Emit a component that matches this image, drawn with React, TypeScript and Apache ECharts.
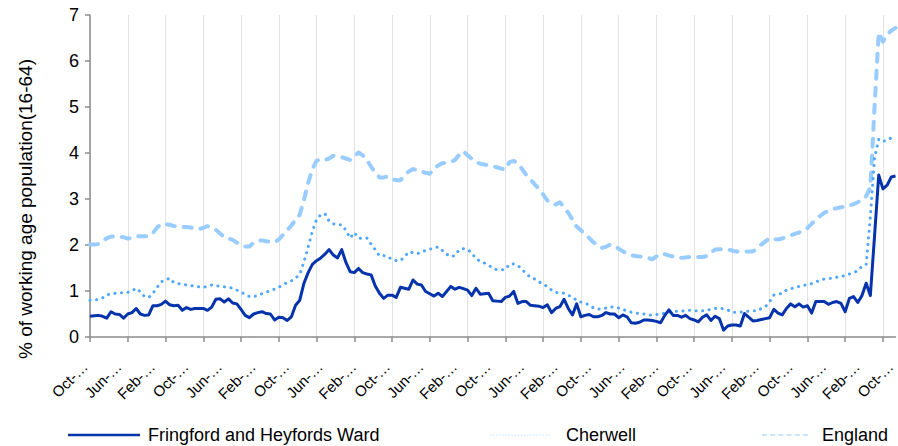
import React, { useEffect, useRef } from "react";
import * as echarts from "echarts";

const MONTH_NAMES = ["Jan", "Feb", "Mar", "Apr", "May", "Jun", "Jul", "Aug", "Sep", "Oct", "Nov", "Dec"];
const START_YEAR = 2004;
const START_MONTH = 9; // October
const POINT_COUNT = 193;

const categories: string[] = [];
for (let i = 0; i < POINT_COUNT; i++) {
  const m = (START_MONTH + i) % 12;
  const y = START_YEAR + Math.floor((START_MONTH + i) / 12);
  categories.push(`${MONTH_NAMES[m]}-${y}`);
}

const yTicks = [0, 1, 2, 3, 4, 5, 6, 7];

const wardName = "Fringford and Heyfords Ward";
const cherwellName = "Cherwell";
const englandName = "England";

const ward = [
  0.45, 0.46, 0.47, 0.45, 0.41, 0.55, 0.5, 0.49, 0.41, 0.5,
  0.53, 0.62, 0.5, 0.47, 0.48, 0.68, 0.68, 0.71, 0.78, 0.7,
  0.68, 0.69, 0.58, 0.64, 0.6, 0.62, 0.62, 0.62, 0.58, 0.65,
  0.82, 0.83, 0.76, 0.83, 0.74, 0.72, 0.6, 0.47, 0.42, 0.5,
  0.53, 0.55, 0.51, 0.5, 0.37, 0.43, 0.42, 0.36, 0.44, 0.69,
  0.8, 1.17, 1.4, 1.58, 1.66, 1.72, 1.8, 1.9, 1.78, 1.72,
  1.9, 1.62, 1.42, 1.4, 1.49, 1.4, 1.37, 1.35, 1.11, 0.95,
  0.84, 0.91, 0.91, 0.86, 1.08, 1.06, 1.04, 1.24, 1.15, 1.13,
  0.99, 0.94, 0.89, 0.95, 0.88, 0.99, 1.1, 1.04, 1.08, 1.05,
  1.02, 0.9, 1.06, 0.93, 0.94, 0.95, 0.79, 0.78, 0.77, 0.86,
  0.89, 0.99, 0.73, 0.77, 0.77, 0.69, 0.68, 0.67, 0.64, 0.7,
  0.53, 0.62, 0.66, 0.82, 0.62, 0.48, 0.72, 0.44, 0.47, 0.49,
  0.44, 0.44, 0.47, 0.53, 0.5, 0.5, 0.42, 0.48, 0.44, 0.31,
  0.3, 0.32, 0.37, 0.37, 0.36, 0.34, 0.31, 0.47, 0.59, 0.47,
  0.47, 0.43, 0.47, 0.4, 0.37, 0.33, 0.43, 0.48, 0.36, 0.45,
  0.4, 0.15, 0.24, 0.26, 0.26, 0.24, 0.51, 0.43, 0.35, 0.36,
  0.38, 0.4, 0.42, 0.6, 0.52, 0.48, 0.62, 0.72, 0.66, 0.72,
  0.65, 0.68, 0.52, 0.77, 0.77, 0.77, 0.71, 0.75, 0.77, 0.73,
  0.55, 0.84, 0.88, 0.75, 0.9, 1.17, 0.9, 2.2, 3.52, 3.22,
  3.3, 3.48, 3.5,
];

const cherwell = [
  0.8, 0.8, 0.82, 0.85, 0.92, 0.93, 0.95, 0.96, 0.96, 0.97,
  1.0, 1.06, 0.98, 0.88, 0.86, 0.95, 1.08, 1.2, 1.24, 1.28,
  1.18, 1.16, 1.15, 1.13, 1.12, 1.1, 1.09, 1.08, 1.1, 1.13,
  1.12, 1.1, 1.09, 1.08, 1.06, 1.02, 0.97, 0.93, 0.88, 0.88,
  0.9, 0.94, 0.97, 1.01, 1.04, 1.08, 1.14, 1.18, 1.22, 1.28,
  1.36, 1.64, 1.95, 2.3, 2.55, 2.66, 2.68, 2.52, 2.46, 2.44,
  2.44, 2.32, 2.15, 2.27, 2.15, 2.14, 2.15, 2.02, 1.9, 1.76,
  1.77, 1.75, 1.68, 1.66, 1.66, 1.75, 1.85, 1.83, 1.81, 1.85,
  1.88, 1.91, 1.93, 1.96, 1.88, 1.8, 1.75, 1.77, 1.9, 1.92,
  1.9, 1.83, 1.7, 1.65, 1.61, 1.56, 1.5, 1.46, 1.46, 1.47,
  1.58, 1.59, 1.55, 1.47, 1.37, 1.3, 1.26, 1.2, 1.15, 1.1,
  1.02, 0.97, 0.97, 0.95, 0.91, 0.86, 0.8, 0.76, 0.73, 0.7,
  0.63, 0.61, 0.61, 0.63, 0.66, 0.64, 0.63, 0.6, 0.56, 0.54,
  0.52, 0.51, 0.5, 0.47, 0.48, 0.49, 0.5, 0.52, 0.54, 0.56,
  0.56, 0.56, 0.58, 0.58, 0.57, 0.57, 0.57, 0.58, 0.6, 0.62,
  0.63, 0.61, 0.59, 0.54, 0.54, 0.54, 0.55, 0.56, 0.57, 0.57,
  0.62, 0.66, 0.77, 0.91, 0.93, 0.95, 1.02, 1.05, 1.07, 1.1,
  1.12, 1.14, 1.16, 1.2, 1.23, 1.26, 1.27, 1.28, 1.3, 1.31,
  1.34, 1.37, 1.4, 1.44, 1.54, 1.58, 2.6, 3.9, 4.3, 4.25,
  4.28, 4.33, 4.35,
];

const england = [
  2.01, 2.01, 2.02, 2.08, 2.15, 2.18, 2.19, 2.18, 2.17, 2.14,
  2.16, 2.19, 2.19, 2.19, 2.19, 2.26, 2.38, 2.46, 2.45, 2.44,
  2.41, 2.39, 2.39, 2.39, 2.38, 2.36, 2.35, 2.37, 2.41, 2.38,
  2.33, 2.25, 2.17, 2.14, 2.11, 2.05, 2.0, 1.97, 1.97, 2.05,
  2.1, 2.1, 2.08, 2.07, 2.06, 2.12, 2.22, 2.32, 2.42, 2.55,
  2.66, 2.98, 3.35, 3.65, 3.83, 3.87, 3.85, 3.88, 3.94, 3.93,
  3.91, 3.88, 3.85, 3.92, 4.01, 3.95, 3.85, 3.7, 3.58, 3.47,
  3.47, 3.49, 3.43, 3.41, 3.41, 3.52, 3.6, 3.65, 3.63, 3.6,
  3.57, 3.55, 3.66, 3.73, 3.78, 3.79, 3.8, 3.85, 3.96, 4.04,
  3.95, 3.87, 3.8, 3.77, 3.75, 3.73, 3.71, 3.69, 3.66, 3.64,
  3.8, 3.83, 3.77, 3.65, 3.52, 3.42, 3.32, 3.22, 3.1, 2.97,
  2.9, 2.88, 2.93, 2.82, 2.7, 2.55, 2.4, 2.32, 2.24, 2.15,
  2.06, 2.0, 1.94, 1.96, 2.01, 1.98, 1.92, 1.86, 1.82, 1.78,
  1.76, 1.75, 1.74, 1.72, 1.69, 1.75, 1.81, 1.8, 1.77, 1.75,
  1.73, 1.72, 1.73, 1.74, 1.74, 1.74, 1.74, 1.76, 1.84, 1.9,
  1.91, 1.9, 1.9, 1.88, 1.86, 1.86, 1.86, 1.86, 1.86, 1.92,
  2.01, 2.08, 2.15, 2.13, 2.12, 2.14, 2.18, 2.21, 2.24, 2.27,
  2.32, 2.37, 2.46, 2.55, 2.63, 2.7, 2.74, 2.78, 2.8, 2.82,
  2.84, 2.86, 2.89, 2.93, 2.98, 3.06, 3.25, 5.0, 6.62, 6.42,
  6.58, 6.66, 6.72,
];

const FONT = "'Liberation Sans', Arial, sans-serif";
const WARD_COLOR = "#0433AC";
const CHERWELL_COLOR = "#4DA6FF";
const ENGLAND_COLOR = "#99CCFF";
const AXIS_COLOR = "#8C8C8C";

// legend icons drawn as filled paths (dash patterns made of tiny rectangles)
function dashPath(count: number, on: number, period: number) {
  let d = "path://";
  for (let i = 0; i < count; i++) {
    d += `M${i * period},0h${on}v1h-${on}z`;
  }
  return d;
}

export default function App() {
  const ref = useRef<HTMLDivElement>(null);

  useEffect(() => {
    if (!ref.current) return;
    const chart = echarts.init(ref.current, undefined, { renderer: "svg" });
    const legendText = { fontFamily: FONT, fontSize: 18, color: "#000" };
    const legendTop = 421;
    chart.setOption({
      animation: false,
      backgroundColor: "#fff",
      grid: { left: 90, top: 15, width: 810, height: 322, containLabel: false },
      xAxis: {
        type: "category",
        data: categories,
        boundaryGap: false,
        axisLine: { show: true, lineStyle: { color: AXIS_COLOR, width: 1.5 } },
        axisTick: { show: true, interval: 8, length: 5, lineStyle: { color: AXIS_COLOR, width: 1.5 } },
        splitLine: { show: true, interval: 8, lineStyle: { color: "#E3E3E3", width: 1 } },
        axisLabel: {
          interval: 7,
          rotate: 45,
          margin: 22,
          padding: [0, 7, 0, 0],
          fontFamily: FONT,
          fontSize: 15,
          color: "#000",
          formatter: (v: string) => v.slice(0, 4) + "…",
        },
      },
      yAxis: {
        type: "value",
        min: yTicks[0],
        max: yTicks[yTicks.length - 1],
        interval: 1,
        axisLine: { show: true, lineStyle: { color: AXIS_COLOR, width: 1.5 } },
        axisTick: { show: true, length: 5, lineStyle: { color: AXIS_COLOR, width: 1.5 } },
        splitLine: { show: false },
        axisLabel: { margin: 11, fontFamily: FONT, fontSize: 18, color: "#000" },
      },
      legend: [
        {
          left: 63,
          top: legendTop,
          itemWidth: 72,
          itemHeight: 2.5,
          data: [{ name: wardName, icon: "rect", itemStyle: { color: WARD_COLOR } }],
          textStyle: { ...legendText, padding: [0, 0, 0, 3] },
        },
        {
          left: 485,
          top: legendTop,
          itemWidth: 60,
          itemHeight: 1.5,
          data: [{ name: cherwellName, icon: dashPath(20, 1.5, 3), itemStyle: { color: "#C6E2FF" } }],
          textStyle: { ...legendText, padding: [0, 0, 0, 11] },
        },
        {
          left: 757,
          top: legendTop,
          itemWidth: 46,
          itemHeight: 2,
          data: [{ name: englandName, icon: dashPath(6, 5, 8.2), itemStyle: { color: ENGLAND_COLOR } }],
          textStyle: { ...legendText, padding: [0, 0, 0, 9] },
        },
      ],
      graphic: [
        {
          type: "text",
          x: 25,
          y: 209,
          rotation: Math.PI / 2,
          style: {
            text: "% of working age population(16-64)",
            font: `19px ${FONT}`,
            fill: "#000",
            align: "center",
            verticalAlign: "middle",
            textAlign: "center",
            textVerticalAlign: "middle",
          },
        },
      ],
      series: [
        {
          name: englandName,
          type: "line",
          data: england,
          symbol: "none",
          z: 1,
          lineStyle: { color: ENGLAND_COLOR, width: 4, type: [8, 9], cap: "round", join: "round" },
          itemStyle: { color: ENGLAND_COLOR },
        },
        {
          name: cherwellName,
          type: "line",
          data: cherwell,
          symbol: "none",
          z: 2,
          lineStyle: { color: CHERWELL_COLOR, width: 3, type: [0.1, 6.5], cap: "round", join: "round" },
          itemStyle: { color: CHERWELL_COLOR },
        },
        {
          name: wardName,
          type: "line",
          data: ward,
          symbol: "none",
          z: 3,
          lineStyle: { color: WARD_COLOR, width: 3, join: "round" },
          itemStyle: { color: WARD_COLOR },
        },
      ],
    });
    return () => chart.dispose();
  }, []);

  return (
    <div
      ref={ref}
      style={{ position: "fixed", left: 0, top: 0, width: 898, height: 446 }}
    />
  );
}
